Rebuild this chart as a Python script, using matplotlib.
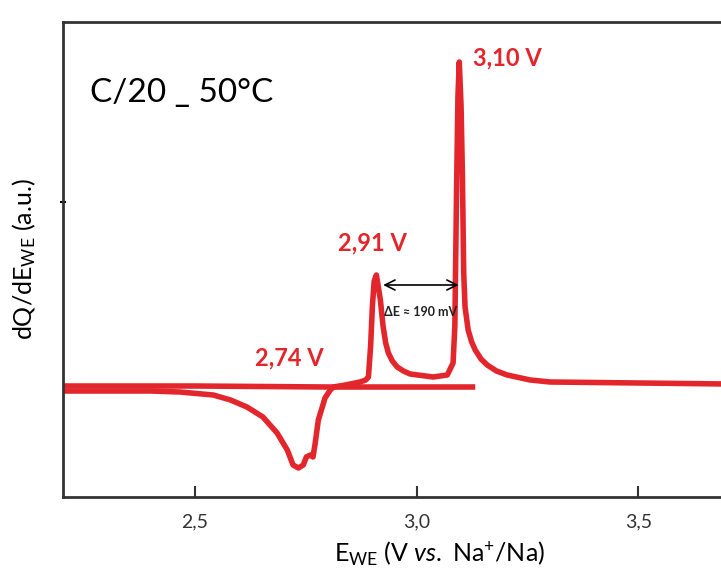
import numpy as np
import matplotlib.pyplot as plt

plt.rcParams['font.family'] = ['Lato', 'DejaVu Sans']
plt.rcParams['mathtext.fontset'] = 'custom'
plt.rcParams['mathtext.rm'] = 'Lato'
plt.rcParams['mathtext.it'] = 'Lato:italic'

red = '#e3262c'

# curve with reduction dip and the two oxidation peaks (a.u.)
E_full = [2.202, 2.40, 2.466, 2.541, 2.58, 2.617, 2.653, 2.685, 2.708, 2.721, 2.733, 2.744,
          2.751, 2.760, 2.766, 2.771, 2.778, 2.787, 2.793, 2.805, 2.812, 2.839, 2.872, 2.885,
          2.891, 2.896, 2.900, 2.904, 2.909, 2.913, 2.918, 2.924, 2.930, 2.936, 2.945, 2.956,
          2.970, 2.985, 3.037, 3.069, 3.082, 3.086, 3.090, 3.093, 3.096, 3.100, 3.103, 3.106,
          3.109, 3.116, 3.124, 3.132, 3.145, 3.159, 3.180, 3.204, 3.256, 3.301, 3.903]
Q_full = [-5, -5, -6, -9, -14, -21, -31, -47, -64, -79, -82, -79,
          -71, -69, -71, -57, -34, -21, -12, -4, -1, 1, 4, 6,
          9, 40, 80, 105, 111, 100, 86, 60, 43, 33, 25, 19,
          15, 12, 9, 11, 23, 60, 200, 290, 324, 280, 213, 113,
          79, 56, 44, 36, 27, 21, 15, 11, 6, 4, 1]

# flat branch ending at ~3.13 V
E_flat = [2.202, 2.50, 2.80, 2.95, 3.132]
Q_flat = [0, 0, -1, -1, -1]

fig = plt.figure(figsize=(7.21, 5.79), dpi=100)
ax = fig.add_axes([63/721, 82/579, 754/721, 475/579])

ax.plot(E_flat, Q_flat, color=red, lw=4, solid_capstyle='butt')
ax.plot(E_full, Q_full, color=red, lw=4, solid_joinstyle='round')

ax.set_xlim(2.202, 3.903)
ax.set_ylim(-111, 364)
ax.set_xticks([2.5, 3.0, 3.5])
ax.set_xticklabels(['2,5', '3,0', '3,5'])
ax.set_yticks([184])
ax.set_yticklabels([''])
ax.tick_params(axis='x', direction='in', length=8, width=1.5, labelsize=14, pad=12, colors='#333333')
ax.tick_params(axis='y', direction='inout', length=5, width=1.5)
for s in ax.spines.values():
    s.set_linewidth(2)
    s.set_color('#333333')

ax.set_xlabel(r'E$_{\mathregular{WE}}$ (V $\it{vs.}$ Na$^{+}$/Na)', fontsize=18, labelpad=6)
ax.set_ylabel(r'dQ/dE$_{\mathregular{WE}}$ (a.u.)', fontsize=18, labelpad=12)

ax.text(2.263, 293, 'C/20 _ 50°C', fontsize=24, va='center', ha='left')
ax.text(3.128, 328, '3,10 V', fontsize=17, fontweight='bold', color=red, va='center')
ax.text(2.823, 143, '2,91 V', fontsize=17, fontweight='bold', color=red, va='center')
ax.text(2.635, 28, '2,74 V', fontsize=17, fontweight='bold', color=red, va='center')

ax.annotate('', xy=(2.918, 101), xytext=(3.101, 101),
            arrowprops=dict(arrowstyle='<->', color='black', lw=1.2, mutation_scale=18))
ax.text(3.008, 74, 'ΔE ≈ 190 mV', fontsize=9, fontweight='bold', ha='center', va='center', color='#222222')

fig.savefig('out.png', dpi=100)
